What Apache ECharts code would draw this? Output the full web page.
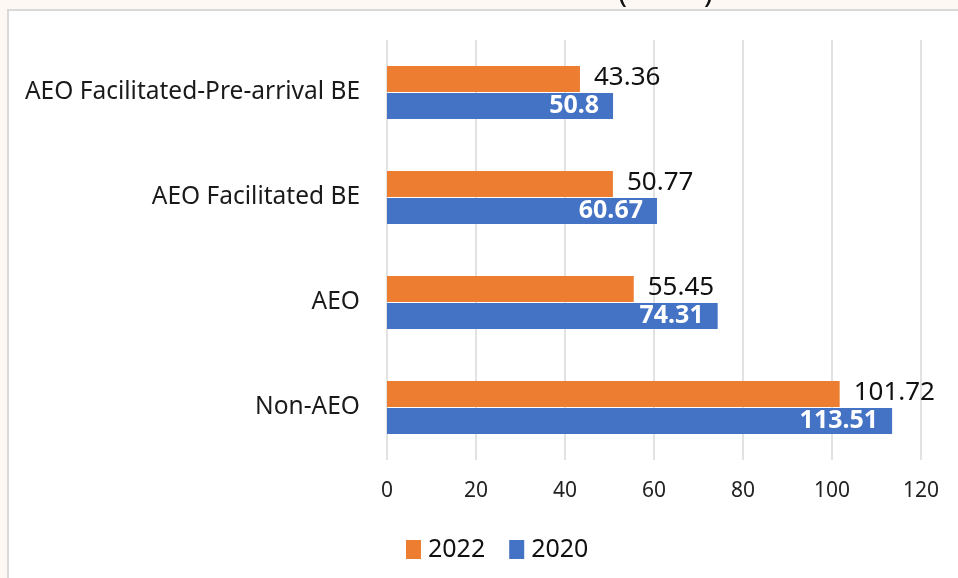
<!DOCTYPE html>
<html>
<head>
<meta charset="utf-8">
<script src="https://cdn.jsdelivr.net/npm/echarts@6/dist/echarts.min.js"></script>
<style>
  html, body { margin: 0; padding: 0; width: 958px; height: 578px; overflow: hidden; background: #fdf8f3; }
  #panel { position: absolute; left: 7px; top: 9px; width: 960px; height: 580px; background: #ffffff; border-left: 2px solid #d9d9d9; border-top: 2px solid #d9d9d9; box-sizing: border-box; }
  #chart { position: absolute; left: 0; top: 0; width: 958px; height: 578px; }
</style>
</head>
<body>
<div id="panel"></div>
<div id="chart"></div>
<script>
// Bill-of-entry release time, by importer category (bottom to top on the axis)
const categories = ['Non-AEO', 'AEO', 'AEO Facilitated BE', 'AEO Facilitated-Pre-arrival BE'];
const values2022 = [101.72, 55.45, 50.77, 43.36];
const values2020 = [113.51, 74.31, 60.67, 50.8];
const seriesNames = ['2022', '2020'];
const tickValues = [0, 20, 40, 60, 80, 100, 120];

const FONT = '"Noto Sans", "Open Sans", sans-serif';
const chart = echarts.init(document.getElementById('chart'), null, { renderer: 'canvas' });

chart.setOption({
  backgroundColor: 'transparent',
  animation: false,
  textStyle: { fontFamily: FONT },
  graphic: [
    // lower ends of the heading's brackets, cut by the top edge
    { type: 'text', left: 618, top: -22, style: { text: '(', fontSize: 30, fontFamily: FONT, fill: '#111' } },
    { type: 'text', left: 704, top: -22, style: { text: ')', fontSize: 30, fontFamily: FONT, fill: '#111' } }
  ],
  legend: {
    data: seriesNames,
    left: 401,
    top: 532,
    itemWidth: 15,
    itemHeight: 19,
    itemGap: 24,
    icon: 'rect',
    textStyle: { fontSize: 25, color: '#111', fontFamily: FONT, padding: [0, 0, 0, 2] }
  },
  grid: { left: 387, right: 37, top: 40, bottom: 118, containLabel: false },
  xAxis: {
    type: 'value',
    min: tickValues[0],
    max: tickValues[tickValues.length - 1],
    interval: tickValues[1] - tickValues[0],
    axisLine: { show: false },
    axisTick: { show: false },
    splitLine: { show: true, lineStyle: { color: '#d9d9d9', width: 1.5 } },
    axisLabel: { fontSize: 21, color: '#222', margin: 21, fontFamily: FONT }
  },
  yAxis: {
    type: 'category',
    data: categories,
    axisLine: { show: false },
    axisTick: { show: false },
    axisLabel: { fontSize: 24.5, color: '#1a1a1a', margin: 27, fontFamily: FONT }
  },
  series: [
    {
      name: seriesNames[0],
      type: 'bar',
      data: values2022,
      barWidth: 26,
      barGap: '4%',
      itemStyle: { color: '#ed7d31' },
      label: {
        show: true,
        position: 'right',
        distance: 14,
        color: '#111111',
        fontSize: 26,
        fontFamily: FONT,
        offset: [0, -1]
      }
    },
    {
      name: seriesNames[1],
      type: 'bar',
      data: values2020,
      barWidth: 26,
      barGap: '4%',
      itemStyle: { color: '#4472c4' },
      label: {
        show: true,
        position: 'insideRight',
        distance: 14,
        color: '#ffffff',
        fontWeight: 'bold',
        fontSize: 25,
        fontFamily: FONT
      }
    }
  ]
});
</script>
</body>
</html>
